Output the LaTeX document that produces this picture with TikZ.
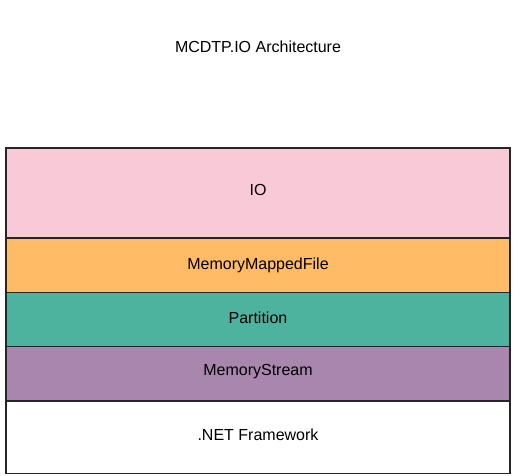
\documentclass[tikz,border=0pt]{standalone}
\usepackage{fontspec}
\setmainfont{Liberation Sans}
\definecolor{pinkio}{HTML}{F8CAD8}
\definecolor{orangemmf}{HTML}{FFBB66}
\definecolor{tealpart}{HTML}{4DB39F}
\definecolor{purplems}{HTML}{A986AE}
\begin{document}
\begin{tikzpicture}[x=1pt,y=-1pt,
  layer/.style={draw=black!85,line width=1.6pt},
  lbl/.style={font=\fontsize{16}{19}\selectfont}]
\useasboundingbox (0,0) rectangle (515,476);
\node[lbl] (title) at (258,47) {MCDTP.IO Architecture};
\filldraw[layer,fill=pinkio] (6,148.3) rectangle (510,238.3);
\node[lbl] (io) at (258,190) {IO};
\filldraw[layer,fill=orangemmf] (6,238.3) rectangle (510,292.7);
\node[lbl] (mmf) at (258,265) {MemoryMappedFile};
\filldraw[layer,fill=tealpart] (6,292.7) rectangle (510,346.7);
\node[lbl] (part) at (258,318) {Partition};
\filldraw[layer,fill=purplems] (6,346.7) rectangle (510,400.7);
\node[lbl] (ms) at (258,372) {MemoryStream};
\filldraw[layer,fill=white] (6,400.7) rectangle (510,473.3);
\node[lbl] (net) at (258,435) {.NET Framework};
\end{tikzpicture}
\end{document}
